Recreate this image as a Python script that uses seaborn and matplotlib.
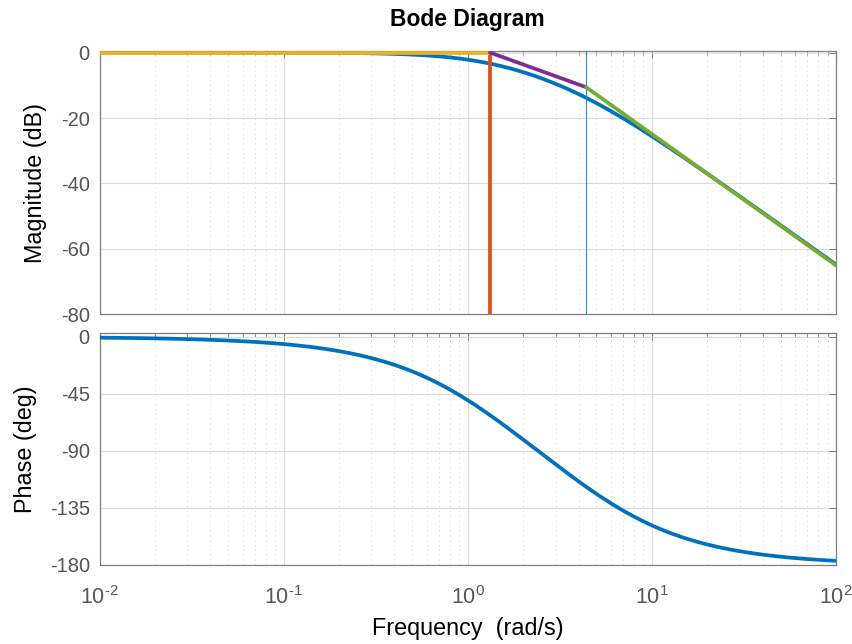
import numpy as np
import pandas as pd
import matplotlib
matplotlib.use("Agg")
import matplotlib.pyplot as plt
import matplotlib.ticker as mticker
import seaborn as sns

# Two real poles (rad/s) of the plant G(s) = 1 / ((s/p1 + 1)(s/p2 + 1))
pole_freqs = [1.32, 4.4]

# Straight-line asymptote breakpoints (rad/s) and their levels (dB)
asym_flat_w = [0.01, 1.32]
asym_flat_db = [0.0, 0.0]
asym_mid_w = [1.32, 4.4]
asym_mid_db = [0.0, -10.6]
asym_high_w = [4.4, 100.0]
asym_high_db = [-10.6, -65.0]

mag_ticks = [0, -20, -40, -60, -80]
phase_ticks = [0, -45, -90, -135, -180]
freq_ticks = [1e-2, 1e-1, 1e0, 1e1, 1e2]

# Frequency response of the plant
w = np.logspace(-2, 2, 600)
H = np.ones_like(w, dtype=complex)
for p in pole_freqs:
    H = H / (1 + 1j * w / p)
bode = pd.DataFrame({
    "w": w,
    "mag": 20 * np.log10(np.abs(H)),
    "phase": np.degrees(np.unwrap(np.angle(H))),
})

sns.set_theme(style="white")
plt.rcParams["font.family"] = ["Liberation Sans", "DejaVu Sans"]
plt.rcParams["mathtext.fontset"] = "custom"
plt.rcParams["mathtext.rm"] = "Liberation Sans"
plt.rcParams["mathtext.it"] = "Liberation Sans"
plt.rcParams["mathtext.default"] = "regular"
plt.rcParams["axes.unicode_minus"] = False

BLUE = "#0072BD"
ORANGE = "#D95319"
YELLOW = "#EDB120"
PURPLE = "#7E2F8E"
GREEN = "#77AC30"
TICK_GRAY = "#555555"
SPINE_GRAY = "#7f7f7f"


def decade_label(x, pos):
    exp = int(round(np.log10(x)))
    sup = r"\text{-}%d" % abs(exp) if exp < 0 else "%d" % exp
    return r"$10^{%s}$" % sup


fig = plt.figure(figsize=(8.53, 6.44), dpi=100)
ax_mag = fig.add_axes([0.1167, 0.5117, 0.8633, 0.4093])
ax_ph = fig.add_axes([0.1167, 0.1227, 0.8633, 0.3600])

lw = 2.7

# Magnitude panel
sns.lineplot(data=bode, x="w", y="mag", ax=ax_mag, color=BLUE, lw=lw, zorder=3)
sns.lineplot(x=asym_flat_w, y=asym_flat_db, ax=ax_mag, color=YELLOW, lw=lw, zorder=5)
ax_mag.plot([pole_freqs[0], pole_freqs[0]], [0, -80], color=ORANGE, lw=lw, zorder=4,
            solid_capstyle="butt")
sns.lineplot(x=asym_mid_w, y=asym_mid_db, ax=ax_mag, color=PURPLE, lw=lw, zorder=5)
ax_mag.axvline(pole_freqs[1], color="#1f8fe0", lw=0.8, zorder=4)
sns.lineplot(x=asym_high_w, y=asym_high_db, ax=ax_mag, color=GREEN, lw=lw, zorder=5)

# Phase panel
sns.lineplot(data=bode, x="w", y="phase", ax=ax_ph, color=BLUE, lw=lw, zorder=3)

for ax in (ax_mag, ax_ph):
    ax.set_xscale("log")
    ax.set_xlim(1e-2, 1e2)
    ax.set_xticks(freq_ticks)
    ax.xaxis.set_minor_locator(mticker.LogLocator(base=10, subs=np.arange(2, 10), numticks=10))
    ax.grid(True, which="major", color="#dcdcdc", lw=0.8, ls="-")
    ax.grid(True, which="minor", axis="x", color="#d0d0d0", lw=0.7, ls=(0, (1, 4)))
    ax.set_axisbelow(True)
    for s in ax.spines.values():
        s.set_visible(True)
        s.set_color(SPINE_GRAY)
        s.set_linewidth(0.9)
    ax.tick_params(which="both", direction="in", top=True, right=True,
                   colors=SPINE_GRAY, labelcolor=TICK_GRAY, labelsize=14.5)
    ax.tick_params(which="major", length=5, width=0.8)
    ax.tick_params(which="minor", length=3, width=0.6)
    ax.tick_params(axis="y", which="major", pad=7)
    ax.set_xlabel("")

ax_mag.set_ylim(-80, 0.5)
ax_mag.set_yticks(mag_ticks)
ax_mag.tick_params(axis="x", labelbottom=False)
ax_mag.set_ylabel("Magnitude (dB)", fontsize=16.8, color="black", labelpad=10)
ax_mag.set_title("Bode Diagram", fontsize=16.5, fontweight="bold", color="black", pad=18)

ax_ph.set_ylim(-180, 3)
ax_ph.set_yticks(phase_ticks)
ax_ph.xaxis.set_major_formatter(mticker.FuncFormatter(decade_label))
ax_ph.tick_params(axis="x", which="major", pad=15, labelsize=15.5)
ax_ph.set_ylabel("Phase (deg)", fontsize=16.8, color="black", labelpad=9)
ax_ph.set_xlabel("Frequency  (rad/s)", fontsize=16.8, color="black", labelpad=6)

fig.savefig("out.png", dpi=100)
